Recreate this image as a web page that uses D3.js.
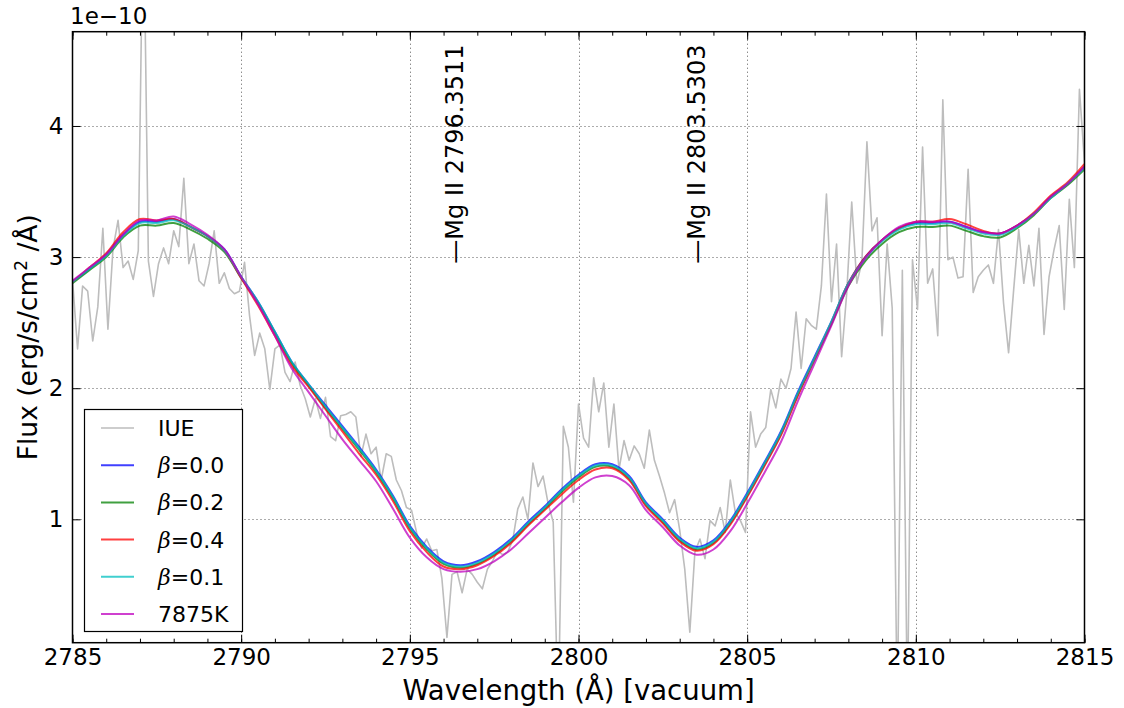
<!DOCTYPE html>
<html>
<head>
<meta charset="utf-8">
<script src="https://cdn.jsdelivr.net/npm/d3@7"></script>
<style>
  html, body { margin: 0; padding: 0; background: #fff; }
  svg { display: block; }
  text { font-family: "DejaVu Sans", sans-serif; fill: #000; }
</style>
</head>
<body>
<svg id="chart" width="1124" height="708"></svg>
<script>
// ---- data ---------------------------------------------------------------
// Model wavelength grid (Å, vacuum)
const modelWave = [
  2785.0, 2785.5, 2786.0, 2786.5, 2787.0, 2787.5, 2788.0, 2788.5, 2789.0, 2789.5,
  2790.0, 2790.5, 2791.0, 2791.5, 2792.0, 2792.5, 2793.0, 2793.5, 2794.0, 2794.5,
  2795.0, 2795.5, 2796.0, 2796.5, 2797.0, 2797.5, 2798.0, 2798.5, 2799.0, 2799.5,
  2800.0, 2800.5, 2801.0, 2801.5, 2802.0, 2802.5, 2803.0, 2803.5, 2804.0, 2804.5,
  2805.0, 2805.5, 2806.0, 2806.5, 2807.0, 2807.5, 2808.0, 2808.5, 2809.0, 2809.5,
  2810.0, 2810.5, 2811.0, 2811.5, 2812.0, 2812.5, 2813.0, 2813.5, 2814.0, 2814.5,
  2815.0
];
// Model fluxes, units of 1e-10 erg/s/cm^2/Å
const fluxBeta00 = [
  2.81, 2.91, 3.02, 3.17, 3.27, 3.27, 3.29, 3.23, 3.16, 3.06,
  2.85, 2.66, 2.43, 2.20, 2.03, 1.87, 1.71, 1.55, 1.38, 1.18,
  0.95, 0.79, 0.68, 0.65, 0.68, 0.75, 0.85, 0.98, 1.10, 1.23,
  1.34, 1.42, 1.42, 1.33, 1.13, 1.00, 0.86, 0.79, 0.84, 0.99,
  1.20, 1.43, 1.67, 1.97, 2.24, 2.51, 2.80, 3.00, 3.13, 3.22,
  3.26, 3.26, 3.27, 3.23, 3.19, 3.18, 3.24, 3.33, 3.46, 3.56,
  3.69
];
const fluxBeta02 = [
  2.80, 2.90, 3.00, 3.15, 3.24, 3.24, 3.26, 3.21, 3.14, 3.04,
  2.84, 2.65, 2.42, 2.19, 2.02, 1.85, 1.69, 1.53, 1.36, 1.16,
  0.93, 0.77, 0.66, 0.63, 0.66, 0.73, 0.83, 0.96, 1.08, 1.21,
  1.32, 1.40, 1.40, 1.31, 1.11, 0.98, 0.84, 0.77, 0.82, 0.97,
  1.18, 1.41, 1.65, 1.95, 2.22, 2.49, 2.78, 2.97, 3.10, 3.19,
  3.23, 3.23, 3.24, 3.20, 3.16, 3.15, 3.22, 3.32, 3.45, 3.55,
  3.67
];
const fluxBeta04 = [
  2.81, 2.92, 3.03, 3.19, 3.29, 3.28, 3.29, 3.23, 3.16, 3.05,
  2.84, 2.63, 2.40, 2.17, 2.01, 1.84, 1.67, 1.50, 1.34, 1.14,
  0.91, 0.75, 0.64, 0.62, 0.65, 0.72, 0.82, 0.95, 1.07, 1.19,
  1.30, 1.38, 1.39, 1.30, 1.10, 0.97, 0.83, 0.76, 0.81, 0.96,
  1.17, 1.40, 1.64, 1.94, 2.22, 2.50, 2.80, 3.00, 3.13, 3.22,
  3.27, 3.27, 3.29, 3.25, 3.20, 3.18, 3.24, 3.34, 3.47, 3.57,
  3.71
];
const fluxBeta01 = [
  2.81, 2.91, 3.01, 3.16, 3.26, 3.26, 3.28, 3.23, 3.16, 3.05,
  2.85, 2.66, 2.43, 2.20, 2.03, 1.86, 1.70, 1.54, 1.37, 1.17,
  0.94, 0.78, 0.67, 0.64, 0.67, 0.74, 0.84, 0.97, 1.09, 1.22,
  1.33, 1.41, 1.41, 1.32, 1.12, 0.99, 0.85, 0.78, 0.83, 0.98,
  1.19, 1.42, 1.66, 1.96, 2.23, 2.51, 2.80, 2.99, 3.12, 3.21,
  3.25, 3.25, 3.26, 3.22, 3.18, 3.17, 3.23, 3.33, 3.45, 3.56,
  3.68
];
const flux7875K = [
  2.82, 2.92, 3.02, 3.17, 3.28, 3.28, 3.31, 3.25, 3.17, 3.06,
  2.85, 2.64, 2.40, 2.15, 1.97, 1.79, 1.61, 1.45, 1.29, 1.08,
  0.86, 0.71, 0.62, 0.60, 0.62, 0.68, 0.77, 0.89, 1.01, 1.13,
  1.24, 1.32, 1.33, 1.26, 1.07, 0.94, 0.80, 0.73, 0.77, 0.91,
  1.12, 1.35, 1.59, 1.90, 2.19, 2.48, 2.78, 2.99, 3.13, 3.23,
  3.27, 3.27, 3.27, 3.23, 3.19, 3.18, 3.24, 3.33, 3.46, 3.56,
  3.69
];

// IUE spectrum: sampled every 0.15 Å starting at 2785.00 Å
const iueStart = 2785.0;
const iueStep = 0.15;
const iueFlux = [
  2.83, 2.30, 2.78, 2.74, 2.36, 2.62, 3.22, 2.45, 3.06, 3.28,
  2.92, 2.97, 2.83, 3.05, 5.80, 2.97, 2.70, 2.95, 3.07, 2.95,
  3.20, 3.08, 3.60, 2.95, 3.10, 2.82, 2.78, 2.95, 3.20, 2.80,
  2.88, 2.76, 2.72, 2.74, 2.96, 2.55, 2.25, 2.42, 2.30, 1.99,
  2.30, 2.33, 2.12, 2.05, 2.20, 2.02, 1.92, 1.78, 1.92, 1.77,
  1.93, 1.63, 1.60, 1.79, 1.80, 1.82, 1.78, 1.48, 1.65, 1.50,
  1.55, 1.30, 1.50, 1.48, 1.30, 1.22, 1.09, 1.07, 0.90, 0.78,
  0.85, 0.76, 0.77, 0.55, 0.10, 0.58, 0.60, 0.44, 0.62, 0.58,
  0.52, 0.47, 0.62, 0.68, 0.76, 0.73, 0.75, 0.84, 1.08, 1.17,
  1.00, 1.43, 1.25, 1.33, 1.12, 0.98, -0.50, 1.71, 1.55, 1.13,
  1.88, 1.62, 1.55, 2.08, 1.82, 2.04, 1.55, 1.88, 1.38, 1.60,
  1.45, 1.56, 1.50, 1.39, 1.68, 1.45, 1.33, 1.20, 1.05, 1.15,
  0.92, 0.62, 0.14, 0.75, 0.85, 0.70, 0.99, 0.95, 1.09, 0.90,
  1.30, 1.05, 0.99, 0.90, 1.82, 1.55, 1.65, 1.70, 1.99, 1.85,
  2.07, 2.00, 2.15, 2.58, 2.15, 2.53, 2.48, 2.45, 2.78, 3.48,
  2.66, 3.10, 2.24, 2.72, 3.42, 2.80, 2.96, 3.88, 3.20, 3.30,
  2.40, 3.10, 2.61, -0.50, 2.90, -0.50, 2.98, 2.60, 3.84, 2.80,
  2.91, 2.40, 4.20, 2.98, 3.00, 2.84, 2.85, 3.67, 2.73, 2.85,
  2.90, 2.94, 2.80, 3.21, 2.65, 2.27, 2.75, 3.21, 2.80, 3.09,
  2.78, 3.22, 2.41, 2.85, 3.06, 3.24, 2.60, 3.44, 2.92, 4.28,
  3.72
];

// Line identifications
const lineNames = ["Mg II 2796.3511", "Mg II 2803.5303"];
const lineWaves = [2796.3511, 2803.5303];
const lineLabelFlux = 2.95;

// Tick values
const xMajorTicks = [2785, 2790, 2795, 2800, 2805, 2810, 2815];
const xMinorTicks = d3.range(2785, 2816, 1);
const yMajorTicks = [1, 2, 3, 4];

// Series, in drawing order
const seriesNames = ["IUE", "β=0.0", "β=0.2", "β=0.4", "β=0.1", "7875K"];
const seriesColors = ["#bdbdbd", "#0000ff", "#008000", "#ff0000", "#00bfbf", "#bf00bf"];

// ---- layout -------------------------------------------------------------
const plot = { left: 72.5, right: 1084.5, top: 31.7, bottom: 642.7 };

const svg = d3.select("#chart");
const x = d3.scaleLinear().domain([2785, 2815]).range([plot.left, plot.right]);
const y = d3.scaleLinear().domain([0.059, 4.719]).range([plot.bottom, plot.top]);

svg.append("defs").append("clipPath").attr("id", "plot-clip")
  .append("rect")
  .attr("x", plot.left).attr("y", plot.top)
  .attr("width", plot.right - plot.left).attr("height", plot.bottom - plot.top);

// grid
const grid = svg.append("g").attr("class", "grid")
  .attr("stroke", "#000").attr("stroke-opacity", 0.65)
  .attr("stroke-width", 1).attr("stroke-dasharray", "1,3");
grid.selectAll("line.gx").data(xMajorTicks.slice(1, -1)).join("line")
  .attr("x1", d => Math.round(x(d)) + 0.5).attr("x2", d => Math.round(x(d)) + 0.5)
  .attr("y1", plot.top).attr("y2", plot.bottom);
grid.selectAll("line.gy").data(yMajorTicks).join("line")
  .attr("y1", d => Math.round(y(d)) + 0.5).attr("y2", d => Math.round(y(d)) + 0.5)
  .attr("x1", plot.left).attr("x2", plot.right);

// spectra
const lines = svg.append("g").attr("clip-path", "url(#plot-clip)");

const iuePoints = iueFlux.map((f, i) => [iueStart + i * iueStep, f]);
const iueLine = d3.line().x(d => x(d[0])).y(d => y(d[1]));
lines.append("path")
  .attr("d", iueLine(iuePoints))
  .attr("fill", "none").attr("stroke", seriesColors[0])
  .attr("stroke-width", 1.6).attr("stroke-linejoin", "round");

const modelSeries = [fluxBeta00, fluxBeta02, fluxBeta04, fluxBeta01, flux7875K];
const modelLine = d3.line()
  .x((d, i) => x(modelWave[i])).y(d => y(d))
  .curve(d3.curveCatmullRom.alpha(0.5));
modelSeries.forEach((vals, k) => {
  lines.append("path")
    .attr("d", modelLine(vals))
    .attr("fill", "none").attr("stroke", seriesColors[k + 1])
    .attr("stroke-opacity", 0.75)
    .attr("stroke-width", 2);
});

// line identification labels
const labelFont = 24;
lineWaves.forEach((w, i) => {
  const px = x(w), py = y(lineLabelFlux);
  svg.append("text")
    .attr("transform", `translate(${px},${py}) rotate(-90)`)
    .attr("dy", "0.31em")
    .attr("font-size", labelFont)
    .text("—" + lineNames[i]);
});

// axes
const tickFont = 23;
function styleAxis(g, labels) {
  g.select(".domain").remove();
  g.selectAll(".tick line").attr("stroke", "#000").attr("stroke-width", 1);
  g.selectAll(".tick text").attr("font-size", tickFont).attr("font-family", "DejaVu Sans");
  if (!labels) g.selectAll(".tick text").remove();
}

svg.append("g").attr("transform", `translate(0,${plot.bottom})`)
  .call(d3.axisBottom(x).tickValues(xMinorTicks).tickSize(-4).tickFormat(""))
  .call(g => styleAxis(g, false));
svg.append("g").attr("transform", `translate(0,${plot.top})`)
  .call(d3.axisTop(x).tickValues(xMinorTicks).tickSize(-4).tickFormat(""))
  .call(g => styleAxis(g, false));
svg.append("g").attr("transform", `translate(0,${plot.bottom})`)
  .call(d3.axisBottom(x).tickValues(xMajorTicks).tickSize(-8).tickPadding(6).tickFormat(d3.format("d")))
  .call(g => styleAxis(g, true));
svg.append("g").attr("transform", `translate(0,${plot.top})`)
  .call(d3.axisTop(x).tickValues(xMajorTicks).tickSize(-8).tickFormat(""))
  .call(g => styleAxis(g, false));
svg.append("g").attr("transform", `translate(${plot.left},0)`)
  .call(d3.axisLeft(y).tickValues(yMajorTicks).tickSize(-8).tickPadding(9).tickFormat(d3.format("d")))
  .call(g => styleAxis(g, true));
svg.append("g").attr("transform", `translate(${plot.right},0)`)
  .call(d3.axisRight(y).tickValues(yMajorTicks).tickSize(-8).tickFormat(""))
  .call(g => styleAxis(g, false));

// frame
svg.append("rect")
  .attr("x", plot.left).attr("y", plot.top)
  .attr("width", plot.right - plot.left).attr("height", plot.bottom - plot.top)
  .attr("fill", "none").attr("stroke", "#000").attr("stroke-width", 1.5);

// offset text
svg.append("text").attr("x", 70).attr("y", 24).attr("font-size", tickFont).text("1e\u221210");

// axis labels
svg.append("text")
  .attr("x", (plot.left + plot.right) / 2).attr("y", 700)
  .attr("text-anchor", "middle").attr("font-size", 27.5)
  .text("Wavelength (Å) [vacuum]");

const yl = svg.append("text")
  .attr("transform", `translate(37,${(plot.top + plot.bottom) / 2}) rotate(-90)`)
  .attr("text-anchor", "middle").attr("font-size", 26.5);
yl.append("tspan").text("Flux (erg/s/cm");
yl.append("tspan").attr("font-size", 17).attr("dy", -10).text("2");
yl.append("tspan").attr("dy", 10).text(" /Å)");

// legend
const leg = svg.append("g");
leg.append("rect")
  .attr("x", 84.5).attr("y", 409.5).attr("width", 158).attr("height", 222)
  .attr("fill", "#fff").attr("stroke", "#000").attr("stroke-width", 1.2);
const legRowY = d3.scaleLinear().domain([0, 5]).range([428, 614]);
seriesNames.forEach((name, i) => {
  const ry = legRowY(i);
  leg.append("line")
    .attr("x1", 101).attr("x2", 134).attr("y1", ry).attr("y2", ry)
    .attr("stroke", seriesColors[i])
    .attr("stroke-opacity", i === 0 ? 1 : 0.75)
    .attr("stroke-width", i === 0 ? 1.6 : 2);
  const t = leg.append("text").attr("x", 158).attr("y", ry).attr("dy", "0.36em").attr("font-size", 22);
  if (name.startsWith("β")) {
    t.append("tspan").attr("font-style", "italic").attr("font-family", "DejaVu Serif").text("β");
    t.append("tspan").text(name.slice(1));
  } else {
    t.text(name);
  }
});
</script>
</body>
</html>
